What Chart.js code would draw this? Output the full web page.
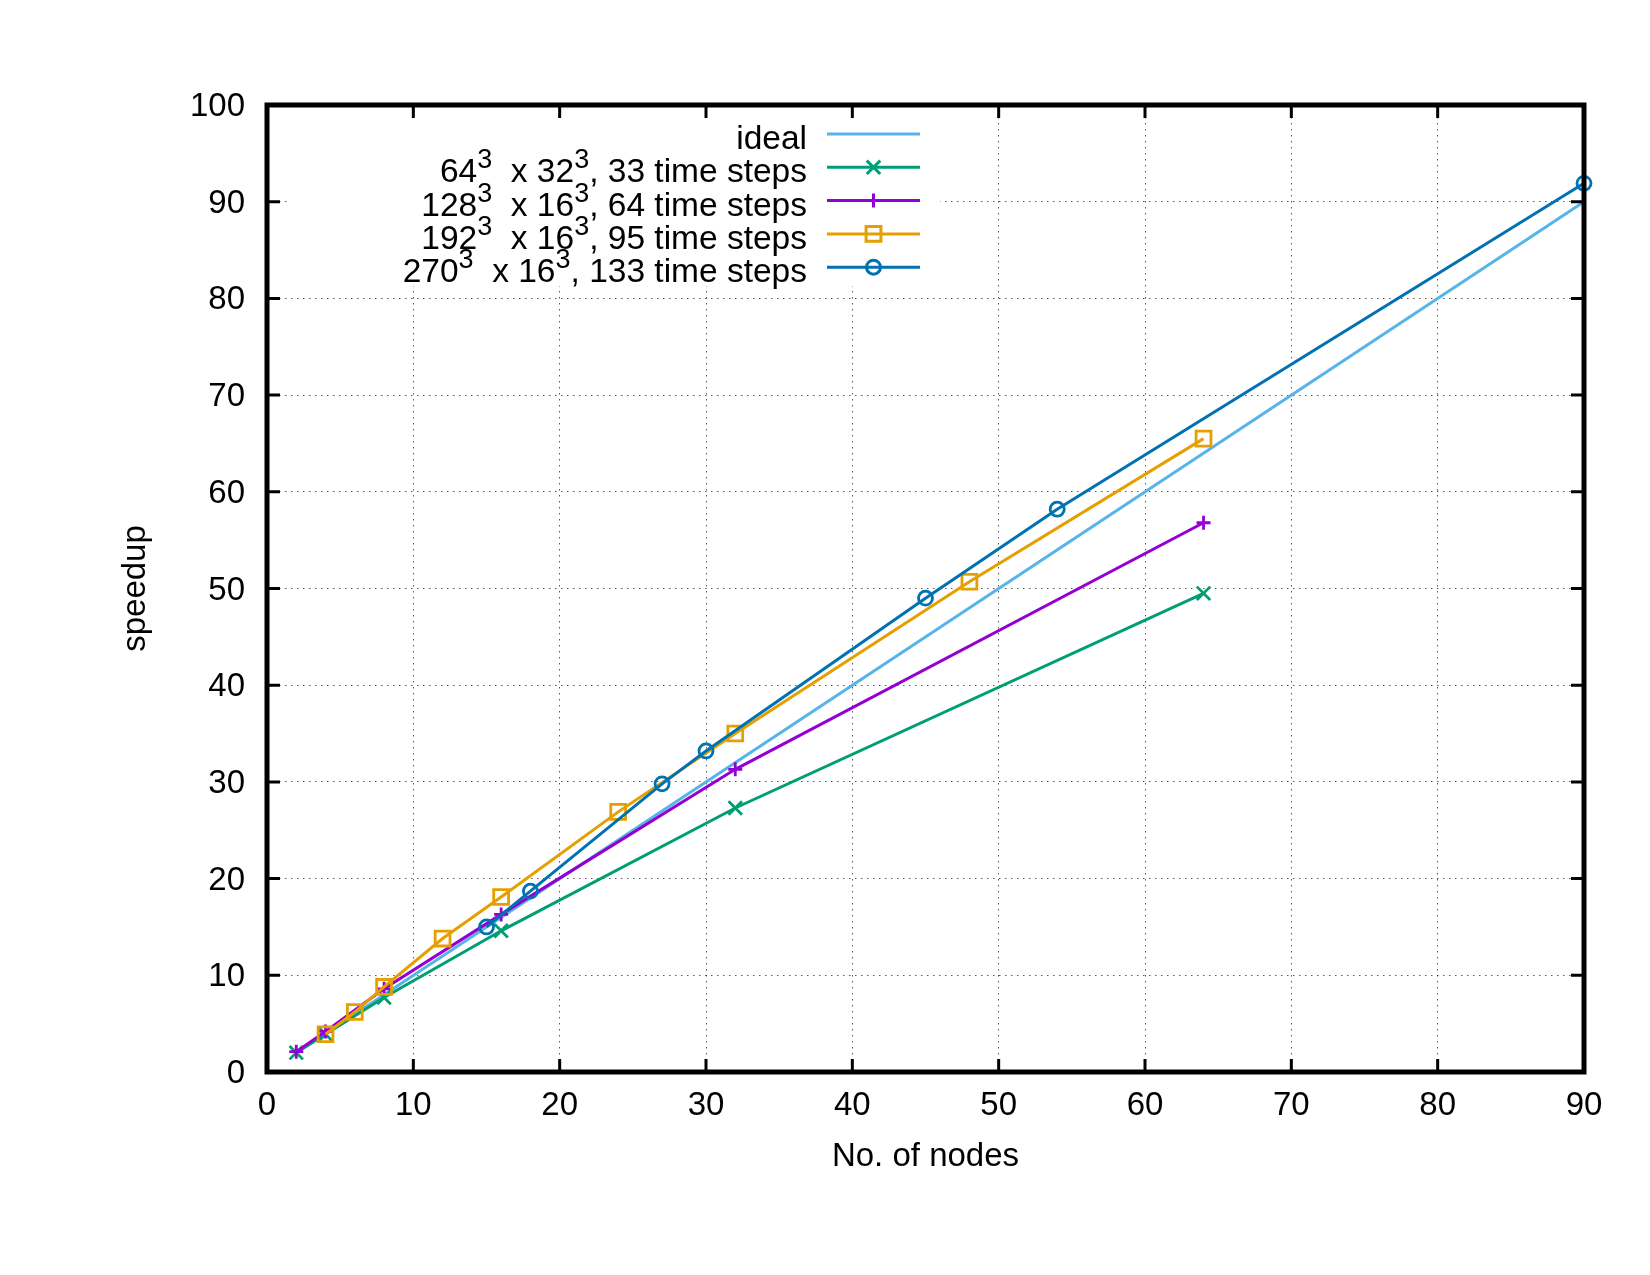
<!DOCTYPE html>
<html>
<head>
<meta charset="utf-8">
<title>speedup</title>
<script src="https://cdn.jsdelivr.net/npm/chart.js@4.4.1/dist/chart.umd.min.js"></script>
<style>
html, body { margin: 0; padding: 0; background: #fff; }
#wrap { width: 1650px; height: 1275px; }
</style>
</head>
<body>
<div id="wrap"><canvas id="speedupChart" width="1650" height="1275"></canvas></div>
<script>
// values
const idealNodes = [2, 90];
const idealSpeedup = [2, 90];

const nodes64 = [2, 4, 8, 16, 32, 64];
const speedup64 = [2.0, 3.9, 7.7, 14.6, 27.3, 49.5];

const nodes128 = [2, 4, 8, 16, 32, 64];
const speedup128 = [2.1, 4.2, 8.6, 16.3, 31.3, 56.8];

const nodes192 = [4, 6, 8, 12, 16, 24, 32, 48, 64];
const speedup192 = [3.9, 6.2, 8.8, 13.8, 18.1, 26.9, 35.0, 50.7, 65.5];

const nodes270 = [15, 18, 27, 30, 45, 54, 90];
const speedup270 = [15.0, 18.7, 29.8, 33.2, 49.0, 58.2, 91.9];

// legend text, pieces flagged true are superscripts
const label64 = [['64', false], ['3', true], ['  x 32', false], ['3', true], [', 33 time steps', false]];
const label128 = [['128', false], ['3', true], ['  x 16', false], ['3', true], [', 64 time steps', false]];
const label192 = [['192', false], ['3', true], ['  x 16', false], ['3', true], [', 95 time steps', false]];
const label270 = [['270', false], ['3', true], ['  x 16', false], ['3', true], [', 133 time steps', false]];
const labelIdeal = [['ideal', false]];

const FONT = "'Liberation Sans', Arial, Helvetica, sans-serif";
Chart.defaults.font.family = FONT;
Chart.defaults.font.size = 33;
Chart.defaults.color = '#000';

function pts(xs, ys) {
    return xs.map((x, i) => ({ x: x, y: ys[i] }));
}

const series = [
    { label: labelIdeal, data: pts(idealNodes, idealSpeedup), color: '#56b4e9', style: false, radius: 0, order: 5 },
    { label: label64, data: pts(nodes64, speedup64), color: '#009e73', style: 'crossRot', radius: 9.5, order: 4 },
    { label: label128, data: pts(nodes128, speedup128), color: '#9400d3', style: 'cross', radius: 7, order: 3 },
    { label: label192, data: pts(nodes192, speedup192), color: '#e69f00', style: 'rect', radius: 10.5, order: 2 },
    { label: label270, data: pts(nodes270, speedup270), color: '#0072b2', style: 'circle', radius: 7, order: 1 }
];

const frameAndKey = {
    id: 'frameAndKey',
    beforeDatasetsDraw(chart) {
        // opaque key box, hides the grid behind it
        const a = chart.chartArea;
        const ctx = chart.ctx;
        ctx.save();
        ctx.fillStyle = '#fff';
        ctx.fillRect(a.left + 21, a.top + 4, 652, 177);
        ctx.restore();
    },
    afterDraw(chart) {
        const a = chart.chartArea;
        const ctx = chart.ctx;
        const xs = chart.scales.x;
        const ys = chart.scales.y;
        ctx.save();

        // inward ticks on all four sides
        ctx.strokeStyle = '#000';
        ctx.lineWidth = 3;
        ctx.beginPath();
        xs.ticks.forEach(t => {
            const px = xs.getPixelForValue(t.value);
            ctx.moveTo(px, a.bottom); ctx.lineTo(px, a.bottom - 13);
            ctx.moveTo(px, a.top); ctx.lineTo(px, a.top + 13);
        });
        ys.ticks.forEach(t => {
            const py = ys.getPixelForValue(t.value);
            ctx.moveTo(a.left, py); ctx.lineTo(a.left + 13, py);
            ctx.moveTo(a.right, py); ctx.lineTo(a.right - 13, py);
        });
        ctx.stroke();

        // frame
        ctx.lineWidth = 5;
        ctx.strokeRect(a.left, a.top, a.right - a.left, a.bottom - a.top);

        // key
        const textRight = a.left + 540;
        const sampleL = a.left + 560;
        const sampleR = a.left + 653;
        const rowTop = a.top + 29;
        const rowGap = 33.3;
        series.forEach((s, i) => {
            const y = rowTop + i * rowGap;
            ctx.lineWidth = 3;
            ctx.strokeStyle = s.color;
            ctx.beginPath();
            ctx.moveTo(sampleL, y);
            ctx.lineTo(sampleR, y);
            ctx.stroke();
            if (s.style) {
                ctx.fillStyle = 'rgba(0,0,0,0)';
                Chart.helpers.drawPoint(ctx, { pointStyle: s.style, radius: s.radius, rotation: 0, borderWidth: 2.8 }, (sampleL + sampleR) / 2, y);
            }
            // text pieces, right aligned
            const big = '33.5px ' + FONT;
            const small = '27px ' + FONT;
            let total = 0;
            s.label.forEach(p => {
                ctx.font = p[1] ? small : big;
                total += ctx.measureText(p[0]).width;
            });
            let x = textRight - total;
            ctx.fillStyle = '#000';
            ctx.textAlign = 'left';
            ctx.textBaseline = 'alphabetic';
            s.label.forEach(p => {
                ctx.font = p[1] ? small : big;
                ctx.fillText(p[0], x, p[1] ? y + 1 : y + 15);
                x += ctx.measureText(p[0]).width;
            });
        });
        ctx.restore();
    }
};

const ctx = document.getElementById('speedupChart').getContext('2d');
const speedupChart = new Chart(ctx, {
    type: 'scatter',
    data: {
        datasets: series.map(s => ({
            label: s.label.map(p => p[0]).join(''),
            data: s.data,
            showLine: true,
            borderColor: s.color,
            backgroundColor: 'rgba(0,0,0,0)',
            borderWidth: 3,
            pointStyle: s.style || 'circle',
            pointRadius: s.radius,
            pointBorderWidth: 2.8,
            pointBorderColor: s.color,
            pointBackgroundColor: 'rgba(0,0,0,0)',
            tension: 0,
            clip: false,
            order: s.order
        }))
    },
    options: {
        responsive: false,
        animation: false,
        layout: {
            padding: { left: 0, right: 66, top: 105, bottom: 0 }
        },
        plugins: {
            legend: { display: false },
            tooltip: { enabled: false }
        },
        scales: {
            x: {
                type: 'linear',
                min: 0,
                max: 90,
                ticks: { stepSize: 10, padding: 14, maxRotation: 0 },
                grid: { color: 'rgba(0,0,0,0.65)', lineWidth: 1, drawTicks: false },
                border: { display: false, dash: [1.5, 4.5] },
                title: { display: true, text: 'No. of nodes', padding: { top: 0, bottom: 98 } },
                afterFit: scale => { scale.height = 203; }
            },
            y: {
                type: 'linear',
                min: 0,
                max: 100,
                ticks: { stepSize: 10, padding: 22, labelOffset: 2 },
                grid: { color: 'rgba(0,0,0,0.65)', lineWidth: 1, drawTicks: false },
                border: { display: false, dash: [1.5, 4.5] },
                title: { display: true, text: 'speedup', padding: { top: 116, bottom: 0 } },
                afterFit: scale => { scale.width = 267; }
            }
        }
    },
    plugins: [frameAndKey]
});
</script>
</body>
</html>
